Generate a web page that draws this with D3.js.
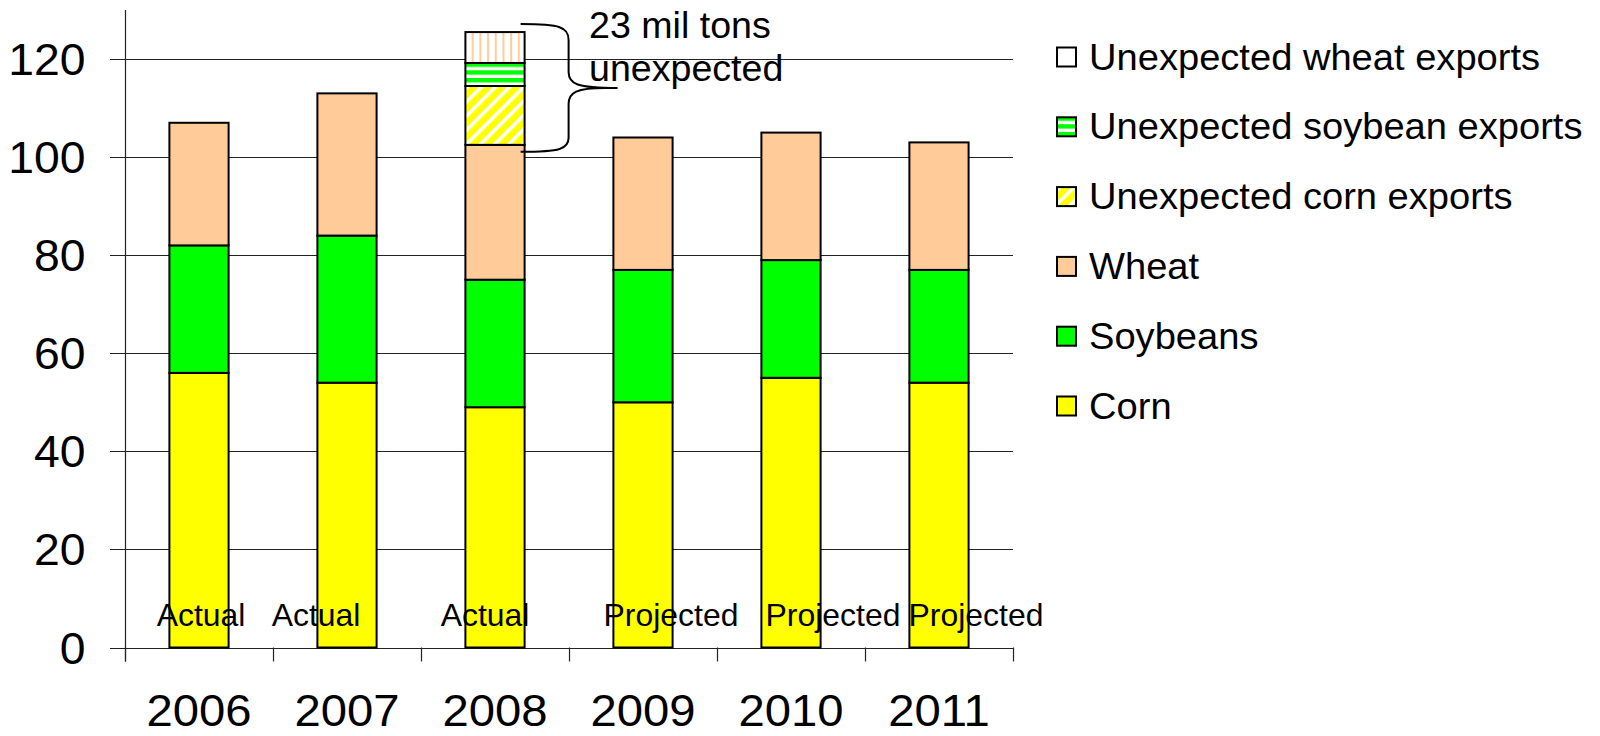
<!DOCTYPE html>
<html>
<head>
<meta charset="utf-8">
<script src="https://cdn.jsdelivr.net/npm/d3@7"></script>
<style>
  html, body { margin: 0; padding: 0; background: #fff; }
  svg { display: block; }
  text { font-family: "Liberation Sans", Arial, sans-serif; fill: #000; }
</style>
</head>
<body>
<svg id="chart" width="1600" height="736"></svg>
<script>
// U.S. grain exports, million tons
const years = ["2006", "2007", "2008", "2009", "2010", "2011"];
const corn = [56, 54, 49, 50, 55, 54];
const soybeans = [26, 30, 26, 27, 24, 23];
const wheat = [25, 29, 27.5, 27, 26, 26];
const unexpectedCorn = [0, 0, 12, 0, 0, 0];
const unexpectedSoybeans = [0, 0, 4.7, 0, 0, 0];
const unexpectedWheat = [0, 0, 6.3, 0, 0, 0];
const status = ["Actual", "Actual", "Actual", "Projected", "Projected", "Projected"];
const yTicks = [0, 20, 40, 60, 80, 100, 120];
const annotation = ["23 mil tons", "unexpected"];

const seriesKeys = ["corn", "soybeans", "wheat", "uCorn", "uSoy", "uWheat"];
const seriesNames = {
  corn: "Corn", soybeans: "Soybeans", wheat: "Wheat",
  uCorn: "Unexpected corn exports", uSoy: "Unexpected soybean exports", uWheat: "Unexpected wheat exports"
};

const rows = years.map((y, i) => ({
  year: y, corn: corn[i], soybeans: soybeans[i], wheat: wheat[i],
  uCorn: unexpectedCorn[i], uSoy: unexpectedSoybeans[i], uWheat: unexpectedWheat[i]
}));

const svg = d3.select("#chart");
const defs = svg.append("defs");

// hatch fills for the unexpected-export segments
const pWheat = defs.append("pattern").attr("id", "pat-uWheat").attr("patternUnits", "userSpaceOnUse")
  .attr("width", 7.7).attr("height", 10);
pWheat.append("rect").attr("width", 7.7).attr("height", 10).attr("fill", "#fff");
pWheat.append("rect").attr("x", 2).attr("width", 2).attr("height", 10).attr("fill", "#FFCC99");

const pSoy = defs.append("pattern").attr("id", "pat-uSoy").attr("patternUnits", "userSpaceOnUse")
  .attr("width", 10).attr("height", 7.7).attr("y", 1);
pSoy.append("rect").attr("width", 10).attr("height", 7.7).attr("fill", "#00FF00");
pSoy.append("rect").attr("y", 4.4).attr("width", 10).attr("height", 3.3).attr("fill", "#fff");

const pCorn = defs.append("pattern").attr("id", "pat-uCorn").attr("patternUnits", "userSpaceOnUse")
  .attr("width", 10).attr("height", 10).attr("patternTransform", "rotate(45)");
pCorn.append("rect").attr("width", 10).attr("height", 10).attr("fill", "#FFFF00");
pCorn.append("rect").attr("width", 3.6).attr("height", 10).attr("fill", "#fff");

const fills = {
  corn: "#FFFF00", soybeans: "#00FF00", wheat: "#FFCC99",
  uCorn: "url(#pat-uCorn)", uSoy: "url(#pat-uSoy)", uWheat: "url(#pat-uWheat)"
};
const legendFills = Object.assign({}, fills, { uWheat: "#fff" });

const plotLeft = 125, plotRight = 1013, plotTop = 10;
const x = d3.scaleBand().domain(years).range([plotLeft, plotRight]).paddingInner(0.6).paddingOuter(0.3);
const y = d3.scaleLinear().domain([0, 130]).range([647.5, plotTop]);

// text helper with a slight horizontal stretch
function label(g, px, py, str, size, sx, anchor) {
  return g.append("text")
    .attr("transform", `translate(${px},${py}) scale(${sx},1)`)
    .attr("font-size", size)
    .attr("text-anchor", anchor)
    .text(str);
}

// gridlines + y ticks
const grid = svg.append("g");
grid.selectAll("line").data(yTicks).join("line")
  .attr("x1", plotLeft - 15).attr("x2", plotRight)
  .attr("y1", d => Math.round(y(d)) + 0.5).attr("y2", d => Math.round(y(d)) + 0.5)
  .attr("stroke", "#222").attr("stroke-width", 1.2);

// y axis line
svg.append("line").attr("x1", plotLeft + 0.5).attr("x2", plotLeft + 0.5)
  .attr("y1", plotTop).attr("y2", y(0) + 14).attr("stroke", "#222").attr("stroke-width", 1.2);

// category separators below the baseline
const step = x.step(), off = (step - x.bandwidth()) / 2;
const seps = years.map(d => x(d) - off).concat([x(years[years.length - 1]) + x.bandwidth() + off]);
svg.append("g").selectAll("line").data(seps).join("line")
  .attr("x1", d => Math.round(d) + 0.5).attr("x2", d => Math.round(d) + 0.5)
  .attr("y1", y(0)).attr("y2", y(0) + 14)
  .attr("stroke", "#222").attr("stroke-width", 1.2);

// stacked bars
const stack = d3.stack().keys(seriesKeys);
const layers = stack(rows);
const bars = svg.append("g");
layers.forEach(layer => {
  bars.append("g").selectAll("rect")
    .data(layer.filter(d => d[1] - d[0] > 0))
    .join("rect")
    .attr("x", d => x(d.data.year))
    .attr("width", x.bandwidth())
    .attr("y", d => y(d[1]))
    .attr("height", d => y(d[0]) - y(d[1]))
    .attr("fill", fills[layer.key])
    .attr("stroke", "#000").attr("stroke-width", 2);
});

// y tick labels
const yl = svg.append("g");
yTicks.forEach(t => label(yl, 85.5, y(t) + 16, String(t), 45, 1.03, "end"));

// year labels
const xl = svg.append("g");
years.forEach(yr => label(xl, x(yr) + x.bandwidth() / 2, 726, yr, 45, 1.05, "middle"));

// Actual / Projected notes (hand placed in the source)
const noteShift = [2, -31, -10, 28, 42, 37];
const nl = svg.append("g");
years.forEach((yr, i) => label(nl, x(yr) + x.bandwidth() / 2 + noteShift[i], 626, status[i], 31, 1.03, "middle"));

// curly brace around the 2008 unexpected exports
const i08 = years.indexOf("2008");
const base08 = corn[i08] + soybeans[i08] + wheat[i08];
const top08 = base08 + unexpectedCorn[i08] + unexpectedSoybeans[i08] + unexpectedWheat[i08];
const bx0 = x("2008") + x.bandwidth() - 4;
const bx1 = bx0 + 48, tipX = bx0 + 97;
const yTop = y(top08) - 8, yBot = y(base08) + 7, yMid = y(top08) + 56;
const brace = d3.path();
brace.moveTo(bx0, yTop);
brace.bezierCurveTo(bx1 - 8, yTop, bx1, yTop + 3, bx1, yTop + 16);
brace.lineTo(bx1, yMid - 16);
brace.bezierCurveTo(bx1, yMid - 4, bx1 + 8, yMid, tipX, yMid);
brace.moveTo(tipX - 12, yMid);
brace.bezierCurveTo(bx1 + 8, yMid, bx1, yMid + 4, bx1, yMid + 16);
brace.lineTo(bx1, yBot - 14);
brace.bezierCurveTo(bx1, yBot - 3, bx1 - 8, yBot, bx0, yBot);
svg.append("path").attr("d", brace.toString()).attr("fill", "none")
  .attr("stroke", "#000").attr("stroke-width", 2);

const an = svg.append("g");
label(an, 589, 37.5, annotation[0], 36.5, 1.03, "start");
label(an, 589, 81, annotation[1], 36.5, 1.03, "start");

// legend (top entry = last stacked series)
const legendOrder = ["uWheat", "uSoy", "uCorn", "wheat", "soybeans", "corn"];
const lg = svg.append("g");
legendOrder.forEach((k, i) => {
  const by = 69.5 + i * 69.8;
  lg.append("rect").attr("x", 1057).attr("y", by - 22).attr("width", 19).attr("height", 19)
    .attr("fill", legendFills[k]).attr("stroke", "#000").attr("stroke-width", 2);
  label(lg, 1089, by, seriesNames[k], 37, 1.03, "start");
});
</script>
</body>
</html>
